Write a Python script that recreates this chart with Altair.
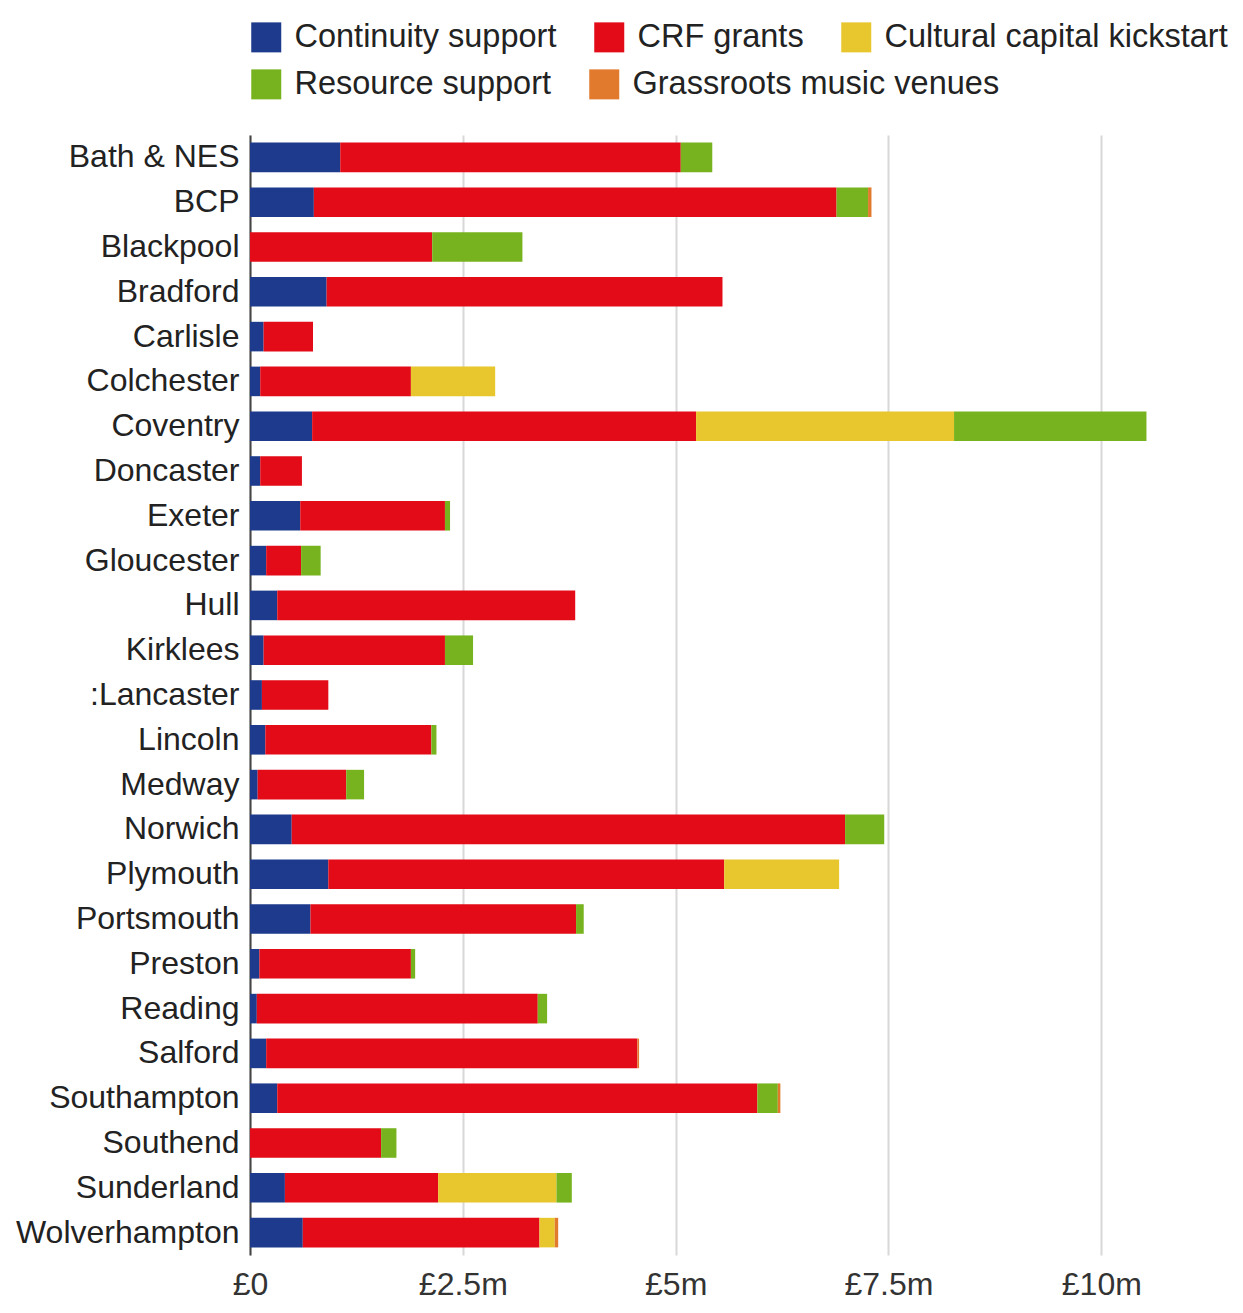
import altair as alt
import pandas as pd

cities = ["Bath & NES", "BCP", "Blackpool", "Bradford", "Carlisle", "Colchester",
          "Coventry", "Doncaster", "Exeter", "Gloucester", "Hull", "Kirklees",
          ":Lancaster", "Lincoln", "Medway", "Norwich", "Plymouth", "Portsmouth",
          "Preston", "Reading", "Salford", "Southampton", "Southend", "Sunderland",
          "Wolverhampton"]
continuity = [1.06, 0.75, 0.00, 0.90, 0.16, 0.12, 0.73, 0.12, 0.59, 0.19, 0.32, 0.16,
              0.14, 0.18, 0.09, 0.49, 0.92, 0.71, 0.11, 0.08, 0.19, 0.32, 0.00, 0.41, 0.62]
crf = [4.00, 6.14, 2.14, 4.65, 0.58, 1.77, 4.51, 0.49, 1.70, 0.41, 3.50, 2.13,
       0.78, 1.95, 1.04, 6.50, 4.65, 3.12, 1.78, 3.30, 4.36, 5.64, 1.54, 1.80, 2.78]
kickstart = [0, 0, 0, 0, 0, 0.99, 3.03, 0, 0, 0, 0, 0,
             0, 0, 0, 0, 1.35, 0, 0, 0, 0, 0, 0, 1.39, 0.18]
resource = [0.37, 0.37, 1.06, 0, 0, 0, 2.26, 0, 0.06, 0.23, 0, 0.33,
            0, 0.06, 0.21, 0.46, 0, 0.09, 0.05, 0.11, 0, 0.24, 0.18, 0.18, 0]
grassroots = [0, 0.04, 0, 0, 0, 0, 0, 0, 0, 0, 0, 0,
              0, 0, 0, 0, 0, 0, 0, 0, 0.02, 0.03, 0, 0, 0.04]

categories = ["Continuity support", "CRF grants", "Cultural capital kickstart",
              "Resource support", "Grassroots music venues"]
colors = ["#1d3a8c", "#e30b17", "#e8c62e", "#77b31f", "#e27a2e"]
tick_values = [0, 2.5, 5, 7.5, 10]
tick_labels = ["£0", "£2.5m", "£5m", "£7.5m", "£10m"]

series = [continuity, crf, kickstart, resource, grassroots]
rows = []
for ci, city in enumerate(cities):
    for si, cat in enumerate(categories):
        rows.append({"city": city, "category": cat, "order": si,
                     "value": series[si][ci]})
df = pd.DataFrame(rows)

label_expr = "''"
for v, l in reversed(list(zip(tick_values, tick_labels))):
    label_expr = f"datum.value == {v} ? '{l}' : ({label_expr})"

FONT = "Liberation Sans"

base = alt.Chart(df).transform_stack(
    stack="value", as_=["x0", "x1"], groupby=["city"],
    sort=[alt.SortField("order", order="ascending")],
)

y_enc = alt.Y("city:N", sort=cities, title=None,
              scale=alt.Scale(paddingInner=0.34, paddingOuter=0.17),
              axis=alt.Axis(labelFontSize=32, labelFont=FONT, labelColor="#222",
                            ticks=False, labelPadding=11, domainColor="#444",
                            domainWidth=2, labelLimit=400))
x_enc = alt.X("x0:Q", title=None,
              scale=alt.Scale(domain=[0, 11.3], nice=False),
              axis=alt.Axis(values=tick_values, labelExpr=label_expr,
                            labelFontSize=32, labelFont=FONT, labelColor="#333",
                            ticks=False, domain=False, labelPadding=14,
                            gridColor="#d8d8d8", gridWidth=2, labelFlush=False))


def legend_layer(idx, legend_y):
    cats = [categories[i] for i in idx]
    cols = [colors[i] for i in idx]
    return base.transform_filter(
        alt.FieldOneOfPredicate(field="category", oneOf=cats)
    ).mark_bar().encode(
        y=y_enc,
        x=x_enc,
        x2="x1:Q",
        color=alt.Color("category:N", sort=cats,
                        scale=alt.Scale(domain=cats, range=cols),
                        legend=alt.Legend(title=None, orient="none", legendX=0,
                                          legendY=legend_y, direction="horizontal",
                                          symbolType="square", symbolSize=900,
                                          symbolStrokeWidth=0, labelFontSize=32.5,
                                          labelFont=FONT, labelColor="#222",
                                          labelOffset=12, columnPadding=36,
                                          labelLimit=500, padding=0)),
    )


row1 = legend_layer([0, 1, 2], -114)
row2 = legend_layer([3, 4], -67)

chart = alt.layer(row1, row2).resolve_scale(color="independent").properties(
    width=962, height=1120,
    padding={"top": 13, "left": 7, "right": 0, "bottom": 2},
).configure_view(stroke=None)

chart.save("out.html", embed_options={"renderer": "svg", "actions": False})
